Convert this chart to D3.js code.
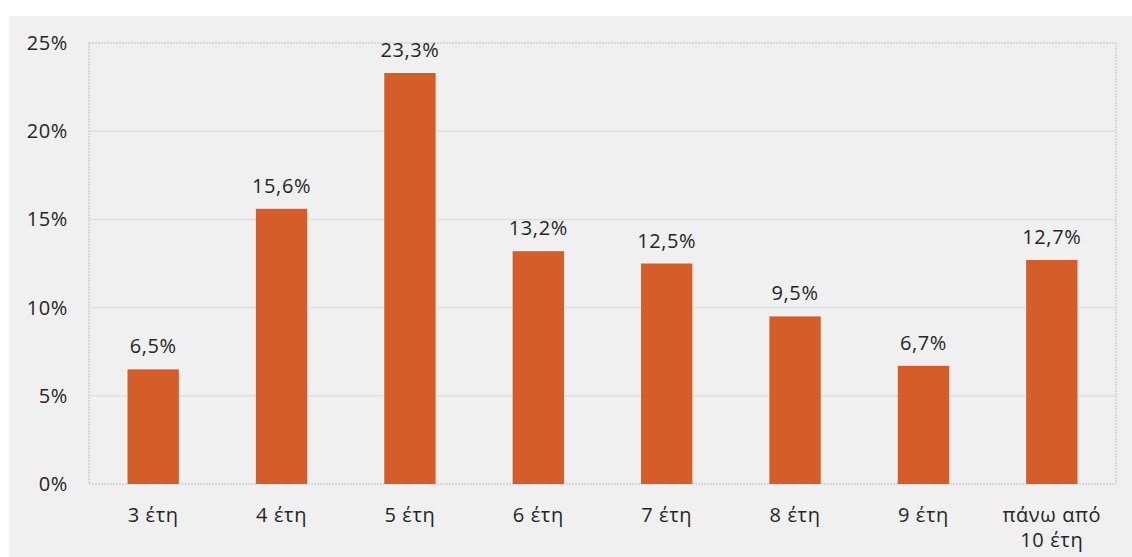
<!DOCTYPE html>
<html>
<head>
<meta charset="utf-8">
<script src="https://cdn.jsdelivr.net/npm/d3@7"></script>
<style>
  body { margin: 0; background: #ffffff; }
  svg { display: block; }
  text { font-family: "Open Sans", "Noto Sans", sans-serif; fill: #262626; letter-spacing: 0.6px; }
</style>
</head>
<body>
<svg></svg>
<script>
// Chart data
const categories = ["3 έτη", "4 έτη", "5 έτη", "6 έτη", "7 έτη", "8 έτη", "9 έτη", "πάνω από|10 έτη"];
const values = [6.5, 15.6, 23.3, 13.2, 12.5, 9.5, 6.7, 12.7];
const valueLabels = ["6,5%", "15,6%", "23,3%", "13,2%", "12,5%", "9,5%", "6,7%", "12,7%"];
const yTicks = [0, 5, 10, 15, 20, 25];

const width = 1132;
const height = 557;
const margin = { top: 43, right: 16, bottom: 73, left: 89 };

const svg = d3.select("svg").attr("width", width).attr("height", height);

// Gray panel behind the chart
svg.append("rect")
  .attr("x", 9)
  .attr("y", 16)
  .attr("width", width - 9)
  .attr("height", height - 16)
  .attr("fill", "#f0f0f0");

const x = d3.scaleBand()
  .domain(categories)
  .range([margin.left, width - margin.right])
  .paddingInner(0.6)
  .paddingOuter(0.3);

const y = d3.scaleLinear()
  .domain([0, 25])
  .range([height - margin.bottom, margin.top]);

// Gridlines
svg.append("g")
  .selectAll("line")
  .data(yTicks.filter(d => d > 0 && d < 25))
  .join("line")
  .attr("x1", margin.left)
  .attr("x2", width - margin.right)
  .attr("y1", d => y(d))
  .attr("y2", d => y(d))
  .attr("stroke", "#dedede")
  .attr("stroke-width", 1.5);

// Plot area border (dotted)
svg.append("rect")
  .attr("x", margin.left)
  .attr("y", y(25))
  .attr("width", width - margin.right - margin.left)
  .attr("height", y(0) - y(25))
  .attr("fill", "none")
  .attr("stroke", "#d0d0d0")
  .attr("stroke-width", 1.5)
  .attr("stroke-dasharray", "2 1");

// Y axis labels
const yAxis = svg.append("g")
  .attr("transform", `translate(${margin.left},0)`)
  .call(d3.axisLeft(y).tickValues(yTicks).tickFormat(d => d + "%").tickSize(0).tickPadding(21));
yAxis.select(".domain").remove();
yAxis.selectAll("text")
  .style("font-size", "20px")
  .attr("fill", "#262626");

// Bars
svg.append("g")
  .selectAll("rect")
  .data(values)
  .join("rect")
  .attr("x", (d, i) => x(categories[i]))
  .attr("y", d => y(d))
  .attr("width", x.bandwidth())
  .attr("height", d => y(0) - y(d))
  .attr("fill", "#d55d2a");

// Value labels
svg.append("g")
  .selectAll("text")
  .data(values)
  .join("text")
  .attr("x", (d, i) => x(categories[i]) + x.bandwidth() / 2)
  .attr("y", d => y(d) - 16)
  .attr("text-anchor", "middle")
  .style("font-size", "20px")
  .text((d, i) => valueLabels[i]);

// Category labels (may wrap on "|")
const xLabels = svg.append("g")
  .selectAll("text")
  .data(categories)
  .join("text")
  .attr("x", d => x(d) + x.bandwidth() / 2)
  .attr("y", y(0) + 38)
  .attr("text-anchor", "middle")
  .style("font-size", "20px");

xLabels.each(function (d) {
  const lines = d.split("|");
  const t = d3.select(this);
  lines.forEach((ln, k) => {
    t.append("tspan")
      .attr("x", t.attr("x"))
      .attr("dy", k === 0 ? 0 : 25)
      .text(ln);
  });
});
</script>
</body>
</html>
